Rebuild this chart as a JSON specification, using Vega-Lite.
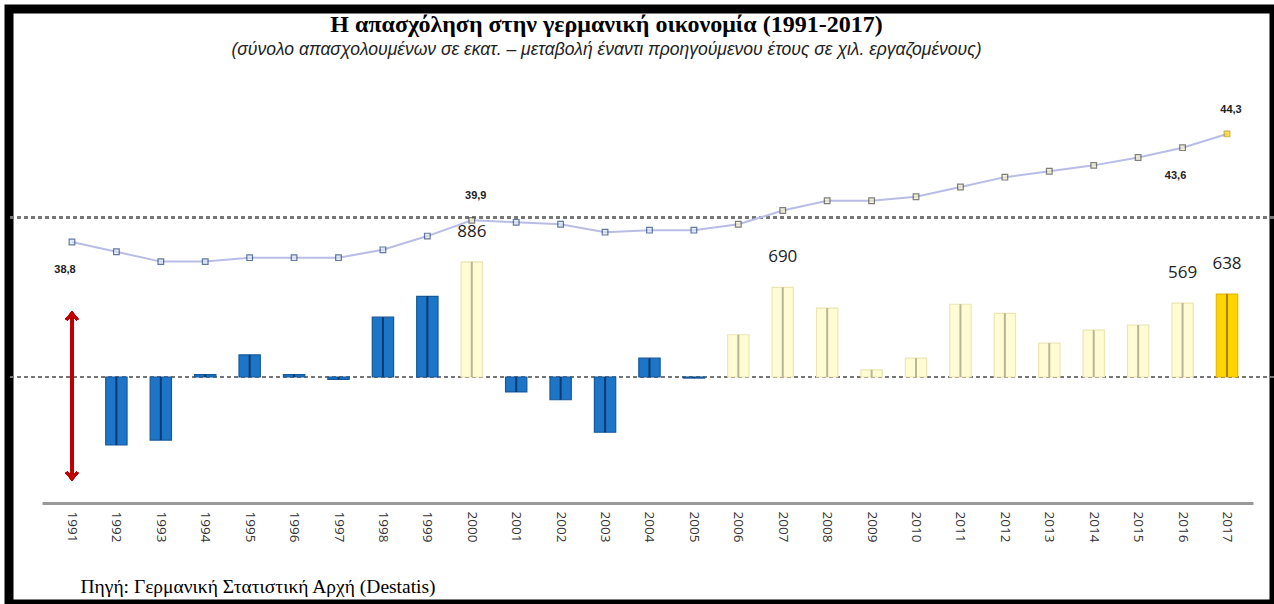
{
  "$schema": "https://vega.github.io/schema/vega-lite/v6.json",
  "autosize": "none",
  "padding": {"left": 9, "top": 9, "right": 0, "bottom": 0},
  "width": 1265,
  "height": 595,
  "background": "white",
  "config": {
    "view": {"stroke": "black", "strokeWidth": 9},
    "locale": {"number": {"decimal": ",", "thousands": ".", "grouping": [3], "currency": ["", " €"]}}
  },
  "title": {
    "text": "Η απασχόληση στην γερμανική οικονομία (1991-2017)",
    "subtitle": "(σύνολο απασχολουμένων σε εκατ. – μεταβολή έναντι προηγούμενου έτους σε χιλ. εργαζομένους)",
    "anchor": "middle",
    "offset": -49,
    "dx": -35,
    "font": "Liberation Serif",
    "fontSize": 24,
    "fontWeight": "bold",
    "color": "black",
    "subtitleFont": "Liberation Sans",
    "subtitleFontStyle": "italic",
    "subtitleFontSize": 17.5,
    "subtitleColor": "#222",
    "subtitlePadding": 4
  },
  "data": {
    "values": [
      {"year": 1991, "change": null, "emp": 38.8, "type": "blue"},
      {"year": 1992, "change": -523, "emp": 38.3, "type": "blue"},
      {"year": 1993, "change": -485, "emp": 37.8, "type": "blue"},
      {"year": 1994, "change": 18, "emp": 37.8, "type": "blue"},
      {"year": 1995, "change": 170, "emp": 38.0, "type": "blue"},
      {"year": 1996, "change": 18, "emp": 38.0, "type": "blue"},
      {"year": 1997, "change": -18, "emp": 38.0, "type": "blue"},
      {"year": 1998, "change": 460, "emp": 38.4, "type": "blue"},
      {"year": 1999, "change": 620, "emp": 39.1, "type": "blue"},
      {"year": 2000, "change": 886, "emp": 39.9, "type": "pale"},
      {"year": 2001, "change": -115, "emp": 39.8, "type": "blue"},
      {"year": 2002, "change": -175, "emp": 39.7, "type": "blue"},
      {"year": 2003, "change": -425, "emp": 39.3, "type": "blue"},
      {"year": 2004, "change": 145, "emp": 39.4, "type": "blue"},
      {"year": 2005, "change": -8, "emp": 39.4, "type": "blue"},
      {"year": 2006, "change": 325, "emp": 39.7, "type": "pale"},
      {"year": 2007, "change": 690, "emp": 40.4, "type": "pale"},
      {"year": 2008, "change": 530, "emp": 40.9, "type": "pale"},
      {"year": 2009, "change": 55, "emp": 40.9, "type": "pale"},
      {"year": 2010, "change": 145, "emp": 41.1, "type": "pale"},
      {"year": 2011, "change": 560, "emp": 41.6, "type": "pale"},
      {"year": 2012, "change": 490, "emp": 42.1, "type": "pale"},
      {"year": 2013, "change": 260, "emp": 42.4, "type": "pale"},
      {"year": 2014, "change": 360, "emp": 42.7, "type": "pale"},
      {"year": 2015, "change": 400, "emp": 43.1, "type": "pale"},
      {"year": 2016, "change": 569, "emp": 43.6, "type": "pale"},
      {"year": 2017, "change": 638, "emp": 44.3, "type": "gold"}
    ]
  },
  "encoding": {
    "x": {
      "field": "year",
      "type": "ordinal",
      "scale": {"type": "band", "range": [33, 1244], "paddingInner": 0.52, "paddingOuter": 0.39, "align": 0.557},
      "axis": {
        "orient": "bottom",
        "offset": -101,
        "labelAngle": 90,
        "labelFont": "Open Sans",
        "labelFontSize": 13.5,
        "labelColor": "#333",
        "labelPadding": 8,
        "ticks": false,
        "domainColor": "#9a9a9a",
        "domainWidth": 3,
        "title": "Πηγή: Γερμανική Στατιστική Αρχή (Destatis)",
        "titleFont": "Liberation Serif",
        "titleFontSize": 19.5,
        "titleFontWeight": "normal",
        "titleColor": "black",
        "titleAlign": "left",
        "titleBaseline": "alphabetic",
        "titleX": 71,
        "titleY": 89
      }
    }
  },
  "layer": [
    {
      "resolve": {"scale": {"color": "independent"}},
      "layer": [
        {
          "mark": {"type": "rule", "color": "#777", "strokeDash": [4, 3], "strokeWidth": 1.5},
          "encoding": {"x": null, "y": {"datum": 0, "type": "quantitative", "scale": {"domain": [-1746, 2831], "nice": false, "zero": false}, "axis": null}}
        },
        {
          "mark": {"type": "bar", "strokeWidth": 1.2},
          "encoding": {
            "y": {"field": "change", "type": "quantitative", "axis": null},
            "y2": {"datum": 0},
            "color": {"field": "type", "type": "nominal", "scale": {"domain": ["blue", "pale", "gold"], "range": ["#1d75c8", "#fffbd2", "#ffd400"]}, "legend": null},
            "stroke": {"field": "type", "type": "nominal", "scale": {"domain": ["blue", "pale", "gold"], "range": ["#16599a", "#ece6b4", "#e6b800"]}, "legend": null}
          }
        },
        {
          "mark": {"type": "bar", "size": 2, "opacity": 0.8},
          "encoding": {
            "y": {"field": "change", "type": "quantitative", "axis": null},
            "y2": {"datum": 0},
            "color": {"field": "type", "type": "nominal", "scale": {"domain": ["blue", "pale", "gold"], "range": ["#0a2a55", "#a8a48c", "#8a6c00"]}, "legend": null}
          }
        },
        {
          "transform": [{"filter": "datum.year == 2000 || datum.year == 2007 || datum.year == 2016 || datum.year == 2017"}],
          "mark": {"type": "text", "font": "Open Sans", "fontSize": 17, "color": "#222", "baseline": "middle", "dy": -30},
          "encoding": {
            "y": {"field": "change", "type": "quantitative", "axis": null},
            "text": {"field": "change", "type": "quantitative", "format": "d"}
          }
        },
        {
          "mark": {"type": "rule", "color": "#c00000", "strokeWidth": 2.5},
          "encoding": {"x": {"datum": 1991}, "y": {"datum": 470}, "y2": {"datum": -762}}
        },
        {
          "mark": {"type": "point", "shape": "M -1 0.7 L 0 -0.5 L 1 0.7", "filled": false, "color": "#c00000", "strokeWidth": 2.5, "size": 120},
          "encoding": {"x": {"datum": 1991}, "y": {"datum": 470}}
        },
        {
          "mark": {"type": "point", "shape": "M -1 -0.7 L 0 0.5 L 1 -0.7", "filled": false, "color": "#c00000", "strokeWidth": 2.5, "size": 120},
          "encoding": {"x": {"datum": 1991}, "y": {"datum": -762}}
        }
      ]
    },
    {
      "layer": [
        {
          "mark": {"type": "rule", "color": "#777", "strokeDash": [4, 3], "strokeWidth": 1.5},
          "encoding": {"x": null, "y": {"datum": 40.05, "type": "quantitative", "scale": {"domain": [20.37, 50.66], "nice": false, "zero": false}, "axis": null}}
        },
        {
          "mark": {"type": "line", "color": "#b9bde6", "strokeWidth": 2},
          "encoding": {"y": {"field": "emp", "type": "quantitative", "axis": null}}
        },
        {
          "mark": {"type": "point", "shape": "square", "filled": true, "size": 32, "strokeWidth": 1.2},
          "encoding": {
            "y": {"field": "emp", "type": "quantitative", "axis": null},
            "fill": {"field": "type", "type": "nominal", "scale": {"domain": ["blue", "pale", "gold"], "range": ["#dfe6f2", "#f3efc6", "#ffd400"]}, "legend": null},
            "stroke": {"field": "type", "type": "nominal", "scale": {"domain": ["blue", "pale", "gold"], "range": ["#23447a", "#4a4a4a", "#b89600"]}, "legend": null}
          }
        },
        {
          "transform": [{"filter": "datum.year == 1991 || datum.year == 2016"}],
          "mark": {"type": "text", "font": "Liberation Sans Narrow, Liberation Sans", "fontWeight": "bold", "fontSize": 11, "color": "#222", "baseline": "middle", "dy": 28, "dx": -7},
          "encoding": {
            "y": {"field": "emp", "type": "quantitative", "axis": null},
            "text": {"field": "emp", "type": "quantitative", "format": ".1f"}
          }
        },
        {
          "transform": [{"filter": "datum.year == 2000 || datum.year == 2017"}],
          "mark": {"type": "text", "font": "Liberation Sans Narrow, Liberation Sans", "fontWeight": "bold", "fontSize": 11, "color": "#222", "baseline": "middle", "dy": -24, "dx": 4},
          "encoding": {
            "y": {"field": "emp", "type": "quantitative", "axis": null},
            "text": {"field": "emp", "type": "quantitative", "format": ".1f"}
          }
        }
      ]
    }
  ],
  "resolve": {"scale": {"y": "independent", "color": "independent", "stroke": "independent"}}
}
